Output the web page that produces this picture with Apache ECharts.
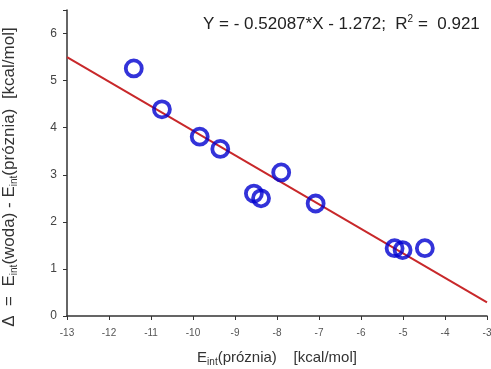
<!DOCTYPE html>
<html><head><meta charset="utf-8">
<script src="https://cdn.jsdelivr.net/npm/echarts@6/dist/echarts.min.js"></script>
<style>html,body{margin:0;padding:0;background:#fff}#c{width:491px;height:369px}</style>
</head><body><div id="c"></div>
<script>
var pointsX = [-11.41, -10.74, -9.84, -9.35, -7.90, -8.55, -8.38, -7.08, -5.20, -5.01, -4.48];
var pointsY = [5.26, 4.39, 3.81, 3.55, 3.05, 2.60, 2.50, 2.39, 1.44, 1.40, 1.44];
var fitX = [-13, -3];
var fitY = [5.50, 0.29];
var xTicks = [-13, -12, -11, -10, -9, -8, -7, -6, -5, -4, -3];
var yTicks = [0, 1, 2, 3, 4, 5, 6];

var pts = pointsX.map(function (x, i) { return [x, pointsY[i]]; });
var fit = fitX.map(function (x, i) { return [x, fitY[i]]; });
var F = 'Liberation Sans, Arial, sans-serif';
var chart = echarts.init(document.getElementById('c'));
chart.setOption({
  animation: false,
  grid: { left: 67, right: 4, top: 10, bottom: 53, containLabel: false, outerBoundsMode: 'none' },
  xAxis: {
    type: 'value', min: -13, max: -3, interval: 1,
    axisLine: { show: true, onZero: false, lineStyle: { color: '#333', width: 1.5 } },
    axisTick: { show: true, length: 4, lineStyle: { color: '#333' } },
    axisLabel: { fontFamily: F, fontSize: 10, color: '#555', margin: 12,
      formatter: function (v) { return xTicks.indexOf(v) >= 0 ? String(v) : ''; } },
    splitLine: { show: false },
    name: '{m|E}{s|int}{m|(próznia)    [kcal/mol]}',
    nameLocation: 'middle', nameGap: 32,
    nameTextStyle: { rich: {
      m: { fontFamily: F, fontSize: 15, color: '#333' },
      s: { fontFamily: F, fontSize: 10, color: '#333', padding: [9, 0, 0, 0] }
    } }
  },
  yAxis: {
    type: 'value', min: 0, max: 6.5, interval: 1,
    axisLine: { show: true, onZero: false, lineStyle: { color: '#333', width: 1.5 } },
    axisTick: { show: true, length: 4, lineStyle: { color: '#333' } },
    axisLabel: { fontFamily: F, fontSize: 12, color: '#444', margin: 10,
      formatter: function (v) { return yTicks.indexOf(v) >= 0 ? String(v) : ''; } },
    splitLine: { show: false },
    name: '{m|Δ  =  E}{s|int}{m|(woda) - E}{s|int}{m|(próznia)  [kcal/mol]}',
    nameLocation: 'middle', nameGap: 48, nameRotate: 90,
    nameTextStyle: { padding: [0, 28, 0, 0], rich: {
      m: { fontFamily: F, fontSize: 17, color: '#333' },
      s: { fontFamily: F, fontSize: 10, color: '#333', padding: [10, 0, 0, 0] }
    } }
  },
  series: [
    { type: 'line', data: fit, symbol: 'none', lineStyle: { color: '#c8282a', width: 2 }, z: 2 },
    { type: 'scatter', data: pts, symbol: 'circle', symbolSize: 16,
      itemStyle: { color: 'rgba(0,0,0,0)', borderColor: '#0000d0', borderWidth: 3.8 }, z: 3 }
  ],
  graphic: [{
    type: 'text', left: 203, top: 14,
    style: {
      text: '{m|Y = - 0.52087*X - 1.272;  R}{p|2}{m| =  0.921}',
      rich: {
        m: { fontFamily: F, fontSize: 17, fill: '#222' },
        p: { fontFamily: F, fontSize: 10, fill: '#222', padding: [0, 0, 10, 0] }
      }
    }
  }]
});
</script></body></html>
